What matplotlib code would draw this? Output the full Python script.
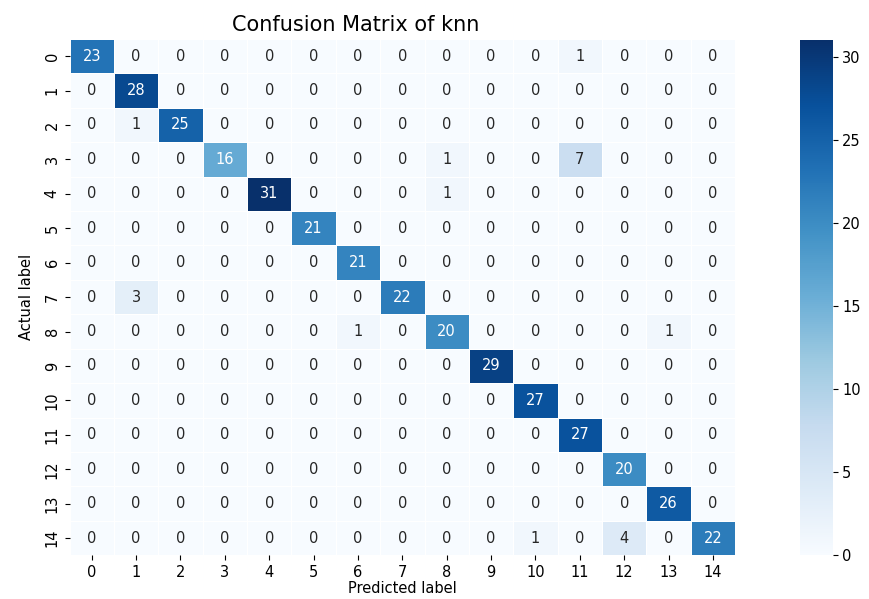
import numpy as np
import matplotlib
matplotlib.use("Agg")
import matplotlib.pyplot as plt
import seaborn as sns

labels = [str(i) for i in range(15)]
cm = [
    [23, 0, 0, 0, 0, 0, 0, 0, 0, 0, 0, 1, 0, 0, 0],
    [0, 28, 0, 0, 0, 0, 0, 0, 0, 0, 0, 0, 0, 0, 0],
    [0, 1, 25, 0, 0, 0, 0, 0, 0, 0, 0, 0, 0, 0, 0],
    [0, 0, 0, 16, 0, 0, 0, 0, 1, 0, 0, 7, 0, 0, 0],
    [0, 0, 0, 0, 31, 0, 0, 0, 1, 0, 0, 0, 0, 0, 0],
    [0, 0, 0, 0, 0, 21, 0, 0, 0, 0, 0, 0, 0, 0, 0],
    [0, 0, 0, 0, 0, 0, 21, 0, 0, 0, 0, 0, 0, 0, 0],
    [0, 3, 0, 0, 0, 0, 0, 22, 0, 0, 0, 0, 0, 0, 0],
    [0, 0, 0, 0, 0, 0, 1, 0, 20, 0, 0, 0, 0, 1, 0],
    [0, 0, 0, 0, 0, 0, 0, 0, 0, 29, 0, 0, 0, 0, 0],
    [0, 0, 0, 0, 0, 0, 0, 0, 0, 0, 27, 0, 0, 0, 0],
    [0, 0, 0, 0, 0, 0, 0, 0, 0, 0, 0, 27, 0, 0, 0],
    [0, 0, 0, 0, 0, 0, 0, 0, 0, 0, 0, 0, 20, 0, 0],
    [0, 0, 0, 0, 0, 0, 0, 0, 0, 0, 0, 0, 0, 26, 0],
    [0, 0, 0, 0, 0, 0, 0, 0, 0, 0, 1, 0, 4, 0, 22],
]
title = "Confusion Matrix of knn"

fig = plt.figure(figsize=(8.69, 5.99), dpi=100)
ax = fig.add_axes([0.08, 0.073, 0.766, 0.862])
cax = fig.add_axes([0.921, 0.073, 0.037, 0.86])
sns.heatmap(np.array(cm), annot=True, fmt="d", cmap="Blues", linewidths=0.5,
            linecolor="white", ax=ax, cbar_ax=cax, xticklabels=labels,
            yticklabels=labels, annot_kws={"fontsize": 10.5})
ax.set_title(title, fontsize=15, x=0.43)
ax.set_xlabel("Predicted label", fontsize=10.5, labelpad=1)
ax.set_ylabel("Actual label", fontsize=10.5, labelpad=8)
ax.tick_params(labelsize=10.5)
cax.tick_params(labelsize=10.5)
fig.savefig("out.png", dpi=100)
